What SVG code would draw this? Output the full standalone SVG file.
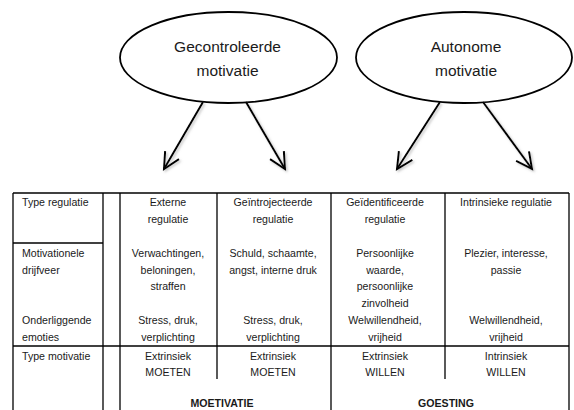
<svg xmlns="http://www.w3.org/2000/svg" width="574" height="410" viewBox="0 0 574 410">
<style>
  .ell { fill: #ffffff; stroke: #000000; stroke-width: 1.8; }
  .et { font-family: "Liberation Sans", Arial, sans-serif; font-size: 15.5px; fill: #1a1a1a; text-anchor: middle; }
  .conn { stroke: #000000; stroke-width: 2; fill: none; marker-end: url(#vhead); filter: url(#sh); }
  .grid { stroke: #000000; stroke-width: 1.3; fill: none; }
  .t { font-family: "Liberation Sans", Arial, sans-serif; font-size: 10.6px; fill: #1a1a1a; }
  .c { text-anchor: middle; }
  .b { font-weight: bold; text-anchor: middle; }
</style>
<defs>
  <marker id="vhead" markerUnits="userSpaceOnUse" markerWidth="24" markerHeight="24" viewBox="-20 -12 24 24" refX="0" refY="0" orient="auto">
    <path d="M -16 -8 L 0 0 L -16 8" fill="none" stroke="#000000" stroke-width="2"/>
  </marker>
  <filter id="sh" x="-20%" y="-20%" width="140%" height="140%">
    <feDropShadow dx="1.5" dy="1.5" stdDeviation="0.8" flood-color="#888888" flood-opacity="0.5"/>
  </filter>
</defs>

<g id="node-gecontroleerde">
  <ellipse class="ell" cx="228.5" cy="57.5" rx="108.5" ry="45.5"/>
  <text class="et" x="227.5" y="52">Gecontroleerde</text>
  <text class="et" x="227.5" y="76">motivatie</text>
</g>

<g id="node-autonome">
  <ellipse class="ell" cx="464" cy="57.5" rx="108" ry="45.5"/>
  <text class="et" x="466" y="52">Autonome</text>
  <text class="et" x="466" y="76">motivatie</text>
</g>

<g id="connectors">
  <path class="conn" d="M 203 102 L 164 169"/>
  <path class="conn" d="M 246 102 L 285 169"/>
  <path class="conn" d="M 440 102 L 397 169"/>
  <path class="conn" d="M 483 102 L 532 169"/>
</g>

<g id="table">
  <g id="table-lines">
    <line class="grid" x1="13" y1="193" x2="569" y2="193"/>
    <line class="grid" x1="13" y1="243" x2="103" y2="243"/>
    <line class="grid" x1="13" y1="346" x2="569" y2="346"/>
    <line class="grid" x1="13" y1="193" x2="13" y2="410"/>
    <line class="grid" x1="103" y1="193" x2="103" y2="410"/>
    <line class="grid" x1="120" y1="193" x2="120" y2="410"/>
    <line class="grid" x1="217" y1="193" x2="217" y2="379"/>
    <line class="grid" x1="331" y1="193" x2="331" y2="410"/>
    <line class="grid" x1="445" y1="193" x2="445" y2="379"/>
    <line class="grid" x1="569" y1="193" x2="569" y2="410"/>
  </g>

  <g id="col-labels">
    <text class="t" x="22" y="206">Type regulatie</text>
    <text class="t" x="22" y="257">Motivationele</text>
    <text class="t" x="22" y="273.5">drijfveer</text>
    <text class="t" x="22" y="324">Onderliggende</text>
    <text class="t" x="22" y="341">emoties</text>
    <text class="t" x="22" y="360">Type motivatie</text>
  </g>

  <g id="col-externe">
    <text class="t c" x="168" y="206">Externe</text>
    <text class="t c" x="168" y="223">regulatie</text>
    <text class="t c" x="168" y="257">Verwachtingen,</text>
    <text class="t c" x="168" y="273.5">beloningen,</text>
    <text class="t c" x="168" y="290">straffen</text>
    <text class="t c" x="168" y="324">Stress, druk,</text>
    <text class="t c" x="168" y="341">verplichting</text>
    <text class="t c" x="168" y="360">Extrinsiek</text>
    <text class="t c" x="168" y="376">MOETEN</text>
  </g>

  <g id="col-geintrojecteerde">
    <text class="t c" x="273" y="206">Geïntrojecteerde</text>
    <text class="t c" x="273" y="223">regulatie</text>
    <text class="t c" x="273" y="257">Schuld, schaamte,</text>
    <text class="t c" x="273" y="273.5">angst, interne druk</text>
    <text class="t c" x="273" y="324">Stress, druk,</text>
    <text class="t c" x="273" y="341">verplichting</text>
    <text class="t c" x="273" y="360">Extrinsiek</text>
    <text class="t c" x="273" y="376">MOETEN</text>
  </g>

  <g id="col-geidentificeerde">
    <text class="t c" x="385" y="206">Geïdentificeerde</text>
    <text class="t c" x="385" y="223">regulatie</text>
    <text class="t c" x="385" y="257">Persoonlijke</text>
    <text class="t c" x="385" y="273.5">waarde,</text>
    <text class="t c" x="385" y="290">persoonlijke</text>
    <text class="t c" x="385" y="306.5">zinvolheid</text>
    <text class="t c" x="385" y="324">Welwillendheid,</text>
    <text class="t c" x="385" y="341">vrijheid</text>
    <text class="t c" x="385" y="360">Extrinsiek</text>
    <text class="t c" x="385" y="376">WILLEN</text>
  </g>

  <g id="col-intrinsieke">
    <text class="t c" x="506" y="206">Intrinsieke regulatie</text>
    <text class="t c" x="506" y="257">Plezier, interesse,</text>
    <text class="t c" x="506" y="273.5">passie</text>
    <text class="t c" x="506" y="324">Welwillendheid,</text>
    <text class="t c" x="506" y="341">vrijheid</text>
    <text class="t c" x="506" y="360">Intrinsiek</text>
    <text class="t c" x="506" y="376">WILLEN</text>
  </g>

  <g id="footer">
    <text class="t b" x="222" y="407">MOETIVATIE</text>
    <text class="t b" x="446" y="407">GOESTING</text>
  </g>
</g>
</svg>
